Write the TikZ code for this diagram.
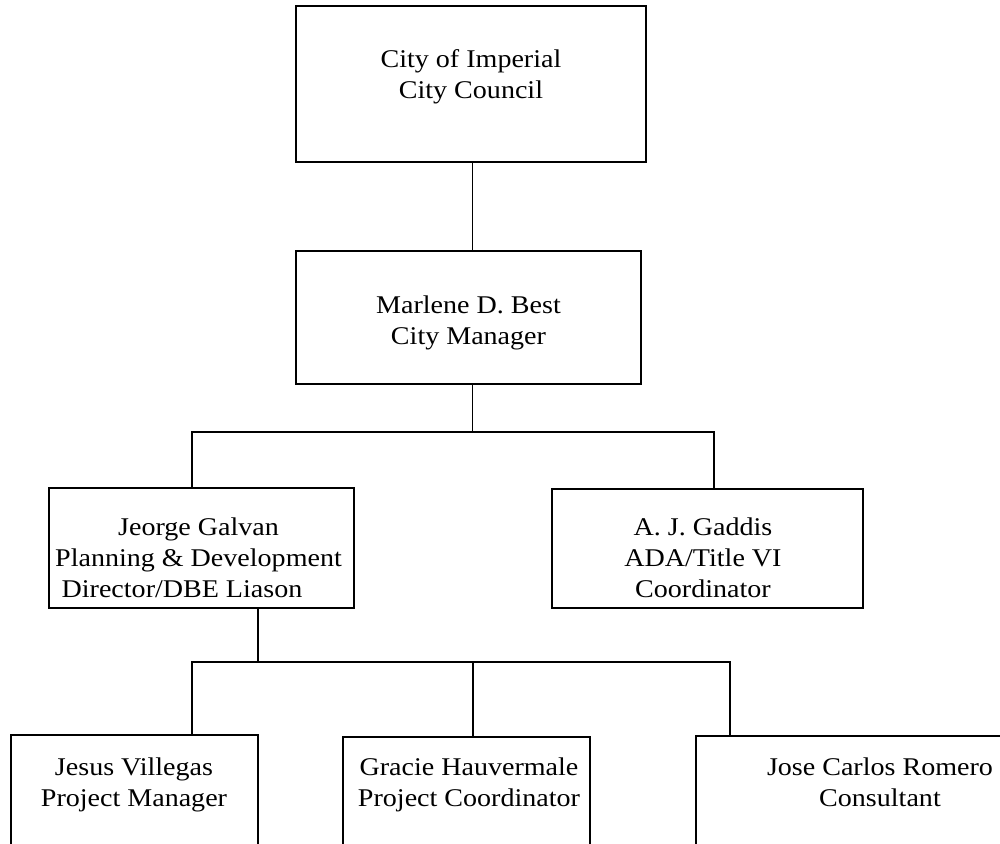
\documentclass[tikz,border=0pt]{standalone}
\usepackage{fontspec}
\setmainfont[FakeStretch=1.1]{Liberation Serif}
\begin{document}
\begin{tikzpicture}[x=1pt,y=-1pt,
  box/.style={draw,line width=2.2pt,inner sep=0pt},
  lbl/.style={align=center,inner sep=0pt,anchor=north,font=\fontsize{25.5}{31}\selectfont},
  link/.style={line width=1.8pt}]
\useasboundingbox (0,0) rectangle (1000,843);
\clip (0,0) rectangle (1000,843);

% boxes
\node[box,minimum width=350pt,minimum height=156pt] (council) at (471,84) {};
\node[box,minimum width=345pt,minimum height=133pt] (manager) at (468.5,317.5) {};
\node[box,minimum width=305pt,minimum height=120pt] (galvan) at (201.5,548) {};
\node[box,minimum width=311pt,minimum height=119pt] (gaddis) at (707.5,548.5) {};
\node[box,minimum width=247pt,minimum height=200pt] (villegas) at (134.5,835) {};
\node[box,minimum width=247pt,minimum height=200pt] (hauvermale) at (466.5,837) {};
\node[box,minimum width=368pt,minimum height=200pt] (romero) at (880,836) {};

\node[lbl] (councilT) at (471,49.6) {City of Imperial\\City Council};
\node[lbl] (managerT) at (468.5,295.6) {Marlene D. Best\\City Manager};
\node[lbl] (galvanT) at (198.5,517.6) {Jeorge Galvan\\Planning \& Development\\Director/DBE Liason\hspace*{33pt}};
\node[lbl] (gaddisT) at (703,517.6) {A. J. Gaddis\\ADA/Title VI\\Coordinator};
\node[lbl] (villegasT) at (134,757.6) {Jesus Villegas\\Project Manager};
\node[lbl] (hauvermaleT) at (469,757.6) {Gracie Hauvermale\\Project Coordinator};
\node[lbl] (romeroT) at (880,757.6) {Jose Carlos Romero\\Consultant};

\coordinate (trunk1) at (472.5,432);
\coordinate (bus1W) at (192,432);
\coordinate (bus1E) at (714,432);
\coordinate (trunk2) at (258,662);
\coordinate (bus2W) at (192,662);
\coordinate (bus2M) at (473,662);
\coordinate (bus2E) at (730,662);

\draw[link] (trunk1 |- council.south) -- (trunk1 |- manager.north);
\draw[link] (trunk1 |- manager.south) -- (trunk1);
\draw[link] (galvan.north -| bus1W) -- (bus1W) -- (bus1E) -- (gaddis.north -| bus1E);
%\draw[link] (galvan.south) -- (trunk2);
\draw[link] (trunk2 |- galvan.south) -- (trunk2);
\draw[link] (villegas.north -| bus2W) -- (bus2W) -- (bus2E) -- (romero.north -| bus2E);
\draw[link] (bus2M) -- (bus2M |- hauvermale.north);
\end{tikzpicture}
\end{document}
